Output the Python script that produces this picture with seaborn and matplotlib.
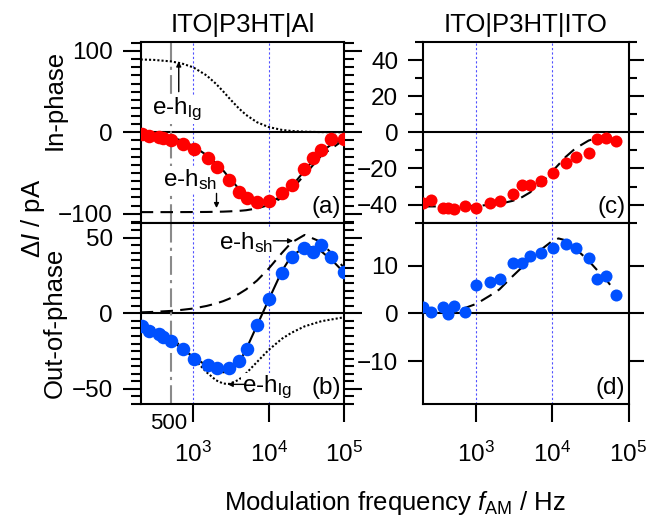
import numpy as np
import pandas as pd
import matplotlib
matplotlib.use("Agg")
import matplotlib.pyplot as plt
import matplotlib.transforms as mtransforms
from matplotlib.ticker import MultipleLocator, NullLocator, FixedLocator
import seaborn as sns

# ---------------- data ----------------
# left device ITO|P3HT|Al : measured points
f_left = [205, 260, 350, 400, 510, 720, 1010, 1550, 2050, 2980, 4030, 5090,
          7000, 10000, 15000, 20300, 29000, 38500, 49300, 68000, 100000]
inphase_left = [-2.5, -5, -6, -6.5, -10, -14, -20, -32, -42, -59, -73, -81,
                -86, -84, -75, -65, -45, -31, -22, -8, -8]
outphase_left = [-8.4, -11.7, -13.9, -15.5, -18.4, -23.5, -30.5, -34.5, -36, -36,
                 -31.7, -23.9, -8, 9.3, 27, 37.4, 43, 40.3, 45.2, 37.6, 27.4]

# left device: model curves
f_model = [200, 300, 500, 700, 1000, 1500, 2000, 2500, 3000, 4000, 5000, 7000,
           10000, 15000, 20000, 30000, 50000, 100000]
lg_in = [89.5, 89.0, 87.2, 84.7, 79.8, 69.9, 59.6, 50.1, 41.9, 29.6, 21.5, 12.4,
         6.5, 3.0, 1.7, 0.8, 0.3, 0.07]
lg_out = [-6.6, -9.9, -16.2, -22.0, -29.6, -39.0, -44.3, -46.5, -46.7, -44.0,
          -39.8, -32.2, -24.2, -16.8, -12.9, -8.6, -5.2, -2.6]
sh_in = [-98, -98, -98, -97.95, -97.9, -97.8, -97.6, -97.4, -97.1, -96.5, -95.7,
         -93.5, -89.3, -80.3, -70.5, -52.2, -28.5, -9.1]
sh_out = [0.65, 0.98, 1.6, 2.3, 3.2, 4.9, 6.5, 8.1, 9.7, 12.8, 15.8, 21.7, 29.6,
          40.0, 46.8, 51.9, 47.2, 30.2]

f_fit = [200, 300, 500, 700, 1000, 1500, 2000, 2500, 3000, 4000, 5000, 7000,
         10000, 15000, 20000, 30000, 40000, 50000, 70000, 100000]
fit_in = [-1, -2.5, -6, -10, -17, -28, -38, -47, -56, -69, -78, -86, -87, -78,
          -67, -47, -33, -24, -14, -8]
fit_out = [-8, -12, -18, -23, -29, -34.5, -38, -39, -38.5, -33, -24, -8, 9, 28,
           38, 43.5, 44, 41, 35, 27]

# right device ITO|P3HT|ITO : measured points
f_right = [201, 253, 361, 429, 514, 709, 1000, 1515, 2050, 3010, 4030, 5090,
           7100, 10100, 15150, 20500, 29800, 39100, 50400, 68900]
inphase_right = [-39.2, -37.4, -42, -41.6, -42.6, -40.7, -42, -38.9, -38, -34.3,
                 -29.1, -29.1, -26.7, -22.7, -17.1, -13.8, -11.3, -3.9, -3.0, -4.6]
outphase_right = [1.4, 0.3, 1.25, -0.1, 1.6, 0.2, 5.9, 6.6, 7.3, 10.6, 10.5, 12.0,
                  12.7, 13.6, 14.6, 13.8, 11.5, 7.1, 7.8, 3.8]

# right device: model curves
f_model_r_in = [200, 300, 500, 700, 1000, 1500, 2000, 3000, 4000, 5000, 7000,
                10000, 15000, 20000, 30000, 50000, 70000]
model_r_in = [-41, -41, -40.9, -40.8, -40.6, -40.2, -39.6, -37.9, -35.8, -33.4,
              -28.4, -21.5, -13.5, -8.9, -4.5, -1.7, -0.9]
f_model_r_out = [200, 300, 500, 700, 1000, 1500, 2000, 3000, 4000, 5000, 7000,
                 10000, 12000, 15000, 20000, 30000, 40000, 50000, 70000]
model_r_out = [0.3, 0.4, 0.7, 1.1, 2.0, 3.7, 5.0, 7.8, 9.7, 11.2, 13.3, 15.2,
               15.7, 15.3, 13.6, 11.0, 8.8, 7.2, 4.2]

x_ticks = [1e3, 1e4, 1e5]
x_ticklabels = ["$10^{3}$", "$10^{4}$", "$10^{5}$"]
titles = ["ITO|P3HT|Al", "ITO|P3HT|ITO"]
panel_tags = ["(a)", "(b)", "(c)", "(d)"]

# ---------------- style ----------------
sns.set_style("ticks")
plt.rcParams["font.family"] = ["Liberation Sans", "DejaVu Sans"]
plt.rcParams["mathtext.fontset"] = "custom"
plt.rcParams["mathtext.rm"] = "Liberation Sans"
plt.rcParams["mathtext.it"] = "Liberation Sans:italic"
plt.rcParams["mathtext.bf"] = "Liberation Sans:bold"
for key in ("text.color", "axes.labelcolor", "xtick.color", "ytick.color",
            "axes.edgecolor"):
    plt.rcParams[key] = "black"

RED = "#ff0000"
BLUE = "#0050ff"
VBLUE = "#5050ff"
GREY = "#8a8a8a"
TICK_FS = 17.5
LAB_FS = 18.5

fig = plt.figure(figsize=(6.47, 5.21), dpi=100)
L1, W1 = 140.7 / 647, (344 - 140.7) / 647
L2, W2 = 423.3 / 647, (628.5 - 423.3) / 647
BT, HT = 1 - 222.7 / 521, (222.7 - 42) / 521
BB, HB = 1 - 404 / 521, (404 - 222.7) / 521

ax_a = fig.add_axes([L1, BT, W1, HT])
ax_b = fig.add_axes([L1, BB, W1, HB])
ax_c = fig.add_axes([L2, BT, W2, HT])
ax_d = fig.add_axes([L2, BB, W2, HB])
axes = [ax_a, ax_b, ax_c, ax_d]

DASH = (0, (6, 3.5))
DOT = (0, (1, 1))


def line(ax, x, y, ls="-", lw=1.5, z=3):
    sns.lineplot(x=x, y=y, ax=ax, color="k", lw=lw, estimator=None, sort=False,
                 zorder=z)
    ax.lines[-1].set_linestyle(ls)


def points(ax, x, y, color, s):
    sns.scatterplot(x=x, y=y, ax=ax, color=color, s=s, linewidth=0, zorder=5)


for ax in axes:
    ax.set_xscale("log")
    ax.set_xlim(200, 1e5)
    for v in (1e3, 1e4):
        ax.axvline(v, color=VBLUE, lw=0.8, ls=(0, (2, 2)), zorder=1)
    ax.axhline(0, color="k", lw=1.5, zorder=2)
    for sp in ax.spines.values():
        sp.set_linewidth(1.5)
        sp.set_visible(True)
        sp.set_color("black")
    ax.xaxis.set_minor_locator(NullLocator())

for ax, (maj, mnr) in zip(axes, [(13, 7), (13, 7), (11, 6), (11, 6)]):
    ax.tick_params(axis="y", which="major", direction="out", length=maj,
                   width=1.5, left=True, right=True, labelsize=TICK_FS, pad=7,
                   colors="black")
    ax.tick_params(axis="y", which="minor", direction="out", length=mnr,
                   width=1.5, left=True, right=True, colors="black")

for ax in (ax_a, ax_c):
    ax.tick_params(axis="x", which="both", bottom=False, top=False,
                   labelbottom=False)
for ax in (ax_b, ax_d):
    ax.set_xticks(x_ticks)
    ax.set_xticklabels(x_ticklabels)
    ax.tick_params(axis="x", which="major", direction="out", length=13,
                   width=1.5, labelsize=TICK_FS, pad=14, top=False,
                   colors="black")

# grey 500 Hz marker line in left panels
for ax in (ax_a, ax_b):
    ax.axvline(500, color=GREY, lw=1.5, ls=(0, (9, 2.5, 1.5, 2.5)), zorder=2)

# ---- panel (a)
line(ax_a, f_model, lg_in, DOT)
line(ax_a, f_model, sh_in, DASH)
line(ax_a, f_fit, fit_in, "-")
points(ax_a, f_left, inphase_left, RED, 95)
ax_a.set_ylim(-111, 111)
ax_a.yaxis.set_major_locator(FixedLocator([-100, 0, 100]))
ax_a.yaxis.set_minor_locator(MultipleLocator(10))

# ---- panel (b)
line(ax_b, f_model, sh_out, DASH)
line(ax_b, f_model, lg_out, DOT)
line(ax_b, f_fit, fit_out, "-")
points(ax_b, f_left, outphase_left, BLUE, 95)
ax_b.set_ylim(-60, 60)
ax_b.yaxis.set_major_locator(FixedLocator([-50, 0, 50]))
ax_b.yaxis.set_minor_locator(MultipleLocator(5))

# ---- panel (c)
line(ax_c, f_model_r_in, model_r_in, DASH)
points(ax_c, f_right, inphase_right, RED, 75)
ax_c.set_ylim(-50, 50)
ax_c.yaxis.set_major_locator(FixedLocator([-40, -20, 0, 20, 40]))
ax_c.yaxis.set_minor_locator(MultipleLocator(10))

# ---- panel (d)
line(ax_d, f_model_r_out, model_r_out, DASH)
points(ax_d, f_right, outphase_right, BLUE, 75)
ax_d.set_ylim(-19, 19)
ax_d.yaxis.set_major_locator(FixedLocator([-10, 0, 10]))
ax_d.yaxis.set_minor_locator(NullLocator())

for ax in axes:
    ax.set_xlabel("")
    ax.set_ylabel("")

# titles
ax_a.set_title(titles[0], fontsize=LAB_FS, pad=7, color="black")
ax_c.set_title(titles[1], fontsize=LAB_FS, pad=7, color="black")

# panel tags
for ax, tag in zip(axes, panel_tags):
    ax.text(0.985, 0.025, tag, transform=ax.transAxes, ha="right", va="bottom",
            fontsize=TICK_FS, zorder=6, color="black")

# annotations
bb = dict(facecolor="white", edgecolor="none", pad=0.5)
ax_a.text(611, 28, "e-h$_{\\mathrm{lg}}$", ha="center", va="center",
          fontsize=TICK_FS, bbox=bb, zorder=4)
ax_a.annotate("", xy=(640, 87), xytext=(640, 50),
              arrowprops=dict(arrowstyle="-|>", lw=1, color="k",
                              mutation_scale=7, shrinkA=0, shrinkB=0), zorder=4)
ax_a.text(905, -58, "e-h$_{\\mathrm{sh}}$", ha="center", va="center",
          fontsize=TICK_FS, bbox=bb, zorder=4)
ax_a.annotate("", xy=(2030, -93), xytext=(2030, -75),
              arrowprops=dict(arrowstyle="-|>", lw=1, color="k",
                              mutation_scale=7, shrinkA=0, shrinkB=0), zorder=4)
ax_b.text(4930, 47, "e-h$_{\\mathrm{sh}}$", ha="center", va="center",
          fontsize=TICK_FS, bbox=bb, zorder=4)
ax_b.annotate("", xy=(21100, 48), xytext=(11500, 48),
              arrowprops=dict(arrowstyle="-|>", lw=1, color="k",
                              mutation_scale=7, shrinkA=0, shrinkB=0), zorder=4)
ax_b.text(9340, -49, "e-h$_{\\mathrm{lg}}$", ha="center", va="center",
          fontsize=TICK_FS, bbox=bb, zorder=4)
ax_b.annotate("", xy=(2860, -47), xytext=(4900, -47),
              arrowprops=dict(arrowstyle="-|>", lw=1, color="k",
                              mutation_scale=7, shrinkA=0, shrinkB=0), zorder=4)

# "500" label below the axis
trans = mtransforms.blended_transform_factory(ax_b.transData, ax_b.transAxes)
ax_b.text(470, -0.05, "500", transform=trans, ha="center", va="top",
          fontsize=16, clip_on=False)

# axis labels
fig.text(395 / 647, 1 - 503 / 521, "Modulation frequency $f_{\\mathrm{AM}}$ / Hz",
         ha="center", va="center", fontsize=LAB_FS)
fig.text(33 / 647, 1 - 218 / 521, "Δ$I$ / pA", ha="center", va="center",
         rotation=90, fontsize=LAB_FS)
fig.text(55 / 647, 1 - 100 / 521, "In-phase", ha="center", va="center",
         rotation=90, fontsize=LAB_FS)
fig.text(55 / 647, 1 - 323 / 521, "Out-of-phase", ha="center", va="center",
         rotation=90, fontsize=LAB_FS)

fig.savefig("out.png", dpi=100)
